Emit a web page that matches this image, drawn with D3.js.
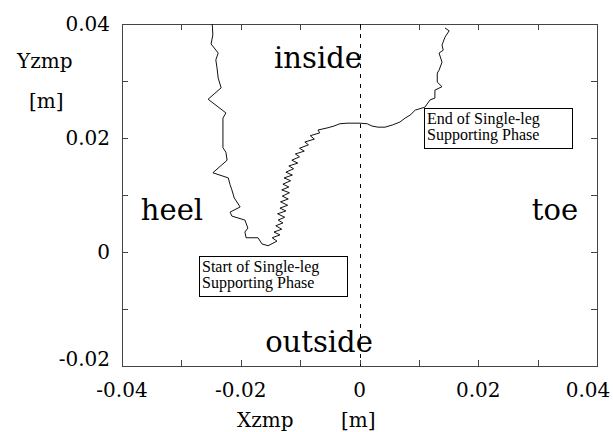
<!DOCTYPE html>
<html>
<head>
<meta charset="utf-8">
<script src="https://cdn.jsdelivr.net/npm/d3@7"></script>
<style>
  body { margin: 0; background: #fff; }
  svg { display: block; }
</style>
</head>
<body>
<script>
// ZMP trajectory (x, y in metres)
const xzmp = [
  -0.0248, -0.0247, -0.0250, -0.0238, -0.0242, -0.0240, -0.0238, -0.0233, -0.0255, -0.0225,
  -0.0230, -0.0230, -0.0230, -0.0225, -0.0223, -0.0247, -0.0221, -0.0218, -0.0215, -0.0211,
  -0.0201, -0.0218, -0.0215, -0.0193, -0.0188, -0.0193, -0.0191, -0.0171, -0.0164, -0.0154,
  -0.0139, -0.0147, -0.0134, -0.0144, -0.0131, -0.0141, -0.0129, -0.0137, -0.0126, -0.0138,
  -0.0124, -0.0134, -0.0121, -0.0133, -0.0120, -0.0130, -0.0118, -0.0131, -0.0119, -0.0129,
  -0.0116, -0.0127, -0.0113, -0.0124, -0.0111, -0.0119, -0.0104, -0.0114, -0.0101, -0.0108,
  -0.0093, -0.0101, -0.0086, -0.0092, -0.0076, -0.0083, -0.0067, -0.0070, -0.0053, -0.0043,
  -0.0033, -0.0021, -0.0011, 0.0001, 0.0013, 0.0021, 0.0031, 0.0043, 0.0056, 0.0068,
  0.0077, 0.0085, 0.0094, 0.0110, 0.0119, 0.0127, 0.0127, 0.0139, 0.0131, 0.0131,
  0.0134, 0.0139, 0.0134, 0.0141, 0.0139, 0.0144, 0.0151, 0.0144
];
const yzmp = [
  0.0400, 0.0381, 0.0365, 0.0349, 0.0337, 0.0323, 0.0305, 0.0288, 0.0268, 0.0244,
  0.0235, 0.0214, 0.0183, 0.0175, 0.0161, 0.0139, 0.0130, 0.0118, 0.0109, 0.0095,
  0.0079, 0.0070, 0.0063, 0.0056, 0.0042, 0.0035, 0.0025, 0.0025, 0.0014, 0.0011,
  0.0019, 0.0025, 0.0030, 0.0035, 0.0040, 0.0046, 0.0051, 0.0056, 0.0061, 0.0067,
  0.0072, 0.0077, 0.0082, 0.0088, 0.0093, 0.0098, 0.0104, 0.0109, 0.0114, 0.0119,
  0.0125, 0.0130, 0.0135, 0.0140, 0.0146, 0.0151, 0.0156, 0.0161, 0.0167, 0.0172,
  0.0177, 0.0182, 0.0188, 0.0193, 0.0198, 0.0204, 0.0209, 0.0214, 0.0218, 0.0221,
  0.0225, 0.0226, 0.0226, 0.0226, 0.0225, 0.0221, 0.0219, 0.0219, 0.0223, 0.0228,
  0.0235, 0.0240, 0.0249, 0.0254, 0.0267, 0.0270, 0.0284, 0.0290, 0.0298, 0.0314,
  0.0319, 0.0333, 0.0349, 0.0354, 0.0363, 0.0377, 0.0388, 0.0393
];

const xTicks = [-0.04, -0.02, 0, 0.02, 0.04];
const xMinorTicks = [-0.04, -0.03, -0.02, -0.01, 0, 0.01, 0.02, 0.03, 0.04];
const yTicks = [-0.02, 0, 0.02, 0.04];
const yMinorTicks = [-0.02, -0.01, 0, 0.01, 0.02, 0.03, 0.04];

const data = xzmp.map((x, i) => ({ x, y: yzmp[i] }));

// Chart dimensions
const width = 613;
const height = 432;
const marginTop = 24;
const marginRight = 16;
const marginBottom = 66;
const marginLeft = 122;

const x = d3.scaleLinear()
  .domain([-0.04, 0.04])
  .range([marginLeft, width - marginRight]);

const y = d3.scaleLinear()
  .domain([-0.02, 0.04])
  .range([height - marginBottom, marginTop]);

const serif = "'DejaVu Serif', serif";
const times = "'Liberation Serif', 'Times New Roman', serif";
const fmt = d => String(d); // plain hyphen minus, as in the original

const svg = d3.select("body")
  .append("svg")
  .attr("width", width)
  .attr("height", height)
  .attr("viewBox", [0, 0, width, height]);

// Frame
svg.append("rect")
  .attr("x", x(-0.04) + 0.5)
  .attr("y", y(0.04) + 0.5)
  .attr("width", x(0.04) - x(-0.04))
  .attr("height", y(-0.02) - y(0.04))
  .attr("fill", "none")
  .attr("stroke", "#444")
  .attr("stroke-width", 1);

// Inward ticks on all four sides
const tickLen = 6;
const ticks = svg.append("g").attr("stroke", "#444").attr("stroke-width", 1);
xMinorTicks.forEach(t => {
  const px = Math.round(x(t)) + 0.5;
  ticks.append("line").attr("x1", px).attr("x2", px)
    .attr("y1", y(-0.02)).attr("y2", y(-0.02) - tickLen);
  ticks.append("line").attr("x1", px).attr("x2", px)
    .attr("y1", y(0.04)).attr("y2", y(0.04) + tickLen);
});
yMinorTicks.forEach(t => {
  const py = Math.round(y(t)) + 0.5;
  ticks.append("line").attr("y1", py).attr("y2", py)
    .attr("x1", x(-0.04)).attr("x2", x(-0.04) + tickLen);
  ticks.append("line").attr("y1", py).attr("y2", py)
    .attr("x1", x(0.04)).attr("x2", x(0.04) - tickLen);
});

// Tick labels (the last one is pulled in so it stays on the page)
svg.append("g")
  .selectAll("text")
  .data(xTicks)
  .join("text")
  .attr("x", d => Math.min(x(d), width - 25))
  .attr("y", 397)
  .attr("text-anchor", "middle")
  .style("font-family", serif)
  .style("font-size", "20px")
  .text(fmt);

svg.append("g")
  .selectAll("text")
  .data(yTicks)
  .join("text")
  .attr("x", x(-0.04) - 12)
  .attr("y", d => d === -0.02 ? y(d) : y(d) + 7)
  .attr("text-anchor", "end")
  .style("font-family", serif)
  .style("font-size", "20px")
  .text(fmt);

// Dashed line at x = 0
svg.append("line")
  .attr("x1", Math.round(x(0)) + 0.5)
  .attr("x2", Math.round(x(0)) + 0.5)
  .attr("y1", y(0.04))
  .attr("y2", y(-0.02))
  .attr("stroke", "#000")
  .attr("stroke-width", 1)
  .attr("stroke-dasharray", "4,6");

// ZMP trajectory
const line = d3.line()
  .x(d => x(d.x))
  .y(d => y(d.y));

svg.append("path")
  .attr("fill", "none")
  .attr("stroke", "#111")
  .attr("stroke-width", 1)
  .attr("d", line(data));

// Region labels
const region = (txt, cx, by) => svg.append("text")
  .attr("x", cx)
  .attr("y", by)
  .attr("text-anchor", "middle")
  .style("font-family", serif)
  .style("font-size", "29px")
  .text(txt);

region("inside", 318, 68);
region("outside", 319, 352);
region("heel", 172, 220);
region("toe", 555, 220);

// Axis titles
const title = (txt, tx, ty) => svg.append("text")
  .attr("x", tx)
  .attr("y", ty)
  .style("font-family", serif)
  .style("font-size", "20px")
  .text(txt);

title("Yzmp", 17, 68);
title("[m]", 29, 108);
title("Xzmp", 237, 427);
title("[m]", 341, 427);

// Annotation boxes
const note = (bx, by, bw, bh, lines) => {
  const g = svg.append("g");
  g.append("rect")
    .attr("x", bx + 0.5).attr("y", by + 0.5)
    .attr("width", bw).attr("height", bh)
    .attr("fill", "#fff").attr("stroke", "#000");
  lines.forEach((t, i) => g.append("text")
    .attr("x", bx + 3)
    .attr("y", by + 16 + i * 16)
    .style("font-family", times)
    .style("font-size", "16px")
    .text(t));
};

note(199, 256, 148, 40, ["Start of Single-leg", "Supporting Phase"]);
note(424, 108, 148, 40, ["End of Single-leg", "Supporting Phase"]);
</script>
</body>
</html>
